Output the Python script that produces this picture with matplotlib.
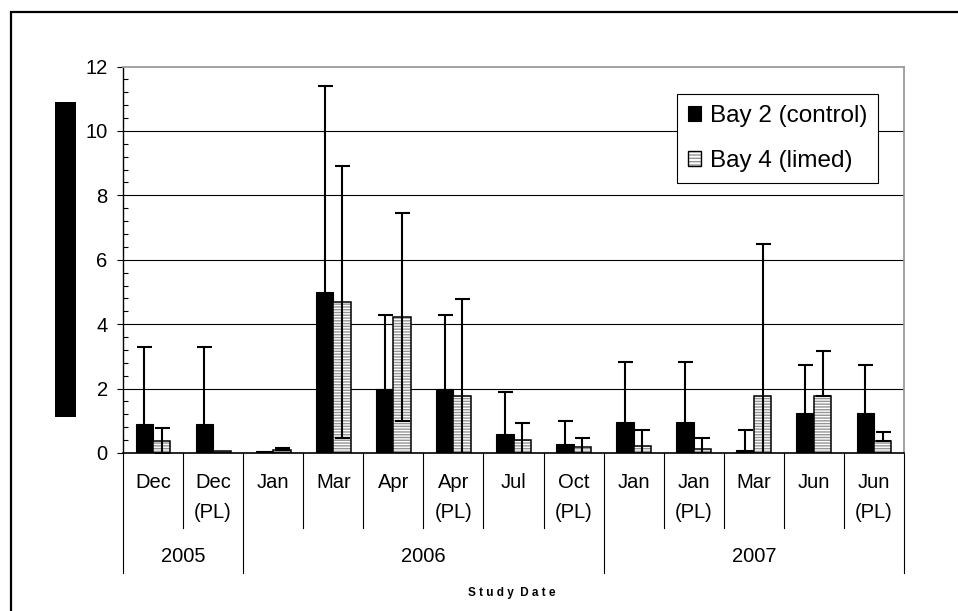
import numpy as np
import matplotlib
matplotlib.use("Agg")
from matplotlib import pyplot as plt
from matplotlib import transforms
from matplotlib.patches import Patch, Rectangle
from matplotlib.legend_handler import HandlerTuple
from matplotlib.ticker import MultipleLocator

# sampling dates (month row, then year row)
months = ["Dec", "Dec\n(PL)", "Jan", "Mar", "Apr", "Apr\n(PL)", "Jul", "Oct\n(PL)",
          "Jan", "Jan\n(PL)", "Mar", "Jun", "Jun\n(PL)"]
years = ["2005", "2006", "2007"]
year_counts = [2, 6, 5]

# means and error bars for each bay
bay2 = [0.9, 0.9, 0.05, 5.0, 2.0, 2.0, 0.6, 0.29, 0.95, 0.95, 0.09, 1.25, 1.25]
bay2_err = [2.4, 2.4, 0.0, 6.4, 2.3, 2.3, 1.29, 0.71, 1.88, 1.88, 0.62, 1.47, 1.47]
bay4 = [0.37, 0.05, 0.08, 4.69, 4.21, 1.77, 0.41, 0.18, 0.23, 0.11, 1.77, 1.77, 0.37]
bay4_err = [0.4, 0.0, 0.06, 4.22, 3.23, 3.01, 0.53, 0.29, 0.48, 0.36, 4.73, 1.41, 0.29]
bay4_err_low = [0.4, 0.0, 0.0, 4.22, 3.21, 3.01, 0.53, 0.29, 0.48, 0.36, 4.73, 0.0, 0.0]

labels = ["Bay 2 (control)", "Bay 4 (limed)"]

plt.rcParams["font.family"] = ["Liberation Sans", "DejaVu Sans"]
plt.rcParams["hatch.linewidth"] = 1.0

W, H = 958, 611
fig = plt.figure(figsize=(W / 100, H / 100), dpi=100)


def fx(px):
    return px / W


def fy(py):
    return 1 - py / H


# outer chart frame (runs off the right and bottom edges)
fig.patches.append(Rectangle((fx(11), fy(640)), fx(1000), 640 / H - 12 / H,
                             transform=fig.transFigure, fill=False,
                             edgecolor="black", linewidth=1.6))
# blacked-out y-axis title
fig.patches.append(Rectangle((fx(55), fy(417)), fx(21), 315 / H,
                             transform=fig.transFigure, facecolor="black",
                             edgecolor="none"))

ax = fig.add_axes([fx(123), fy(453), fx(904) - fx(123), fy(66.5) - fy(453)])

x = np.arange(len(months))
w = 0.29
hatch_grey = "#959595"

ax.bar(x - w / 2, bay2, w, color="black", edgecolor="black", linewidth=0.8, zorder=2)
ax.bar(x + w / 2, bay4, w, color="white", edgecolor=hatch_grey, linewidth=0,
       hatch="------", zorder=2)
ax.bar(x + w / 2, bay4, w, fill=False, edgecolor="black", linewidth=1.1, zorder=2.1)

for xs, ys, lo, hi in [(x - w / 2, bay2, bay2_err, bay2_err),
                       (x + w / 2, bay4, bay4_err_low, bay4_err)]:
    ys = np.asarray(ys)
    lo = np.asarray(lo)
    hi = np.asarray(hi)
    m = hi > 0
    ax.errorbar(xs[m], ys[m], yerr=[lo[m], hi[m]], fmt="none", ecolor="black",
                elinewidth=1.5, capsize=5.4, capthick=1.5, zorder=3)

ax.set_xlim(-0.5, len(months) - 0.5)
ax.set_ylim(0, 12)
ax.yaxis.set_major_locator(MultipleLocator(2))
ax.yaxis.set_minor_locator(MultipleLocator(0.4))
ax.tick_params(axis="y", which="major", direction="out", length=4.5, width=0.8,
               pad=6.5, labelsize=14.5)
ax.tick_params(axis="y", which="minor", direction="in", length=3.5, width=0.8)
ax.set_xticks([])

for yv in range(2, 12, 2):
    ax.axhline(yv, color="black", linewidth=0.8, zorder=1)

for side in ["top", "right"]:
    ax.spines[side].set_color("#9a9a9a")
    ax.spines[side].set_linewidth(1.3)
ax.spines["left"].set_linewidth(1.0)
ax.spines["bottom"].set_linewidth(1.2)

# two-level category axis
trans = transforms.blended_transform_factory(ax.transData, fig.transFigure)
bounds = np.cumsum([0] + year_counts) - 0.5
for i in range(len(months) + 1):
    xb = i - 0.5
    bottom = 573 if xb in bounds else 528
    ax.plot([xb, xb], [fy(453), fy(bottom)], color="black", linewidth=0.8,
            transform=trans, clip_on=False)

for i, lab in enumerate(months):
    for j, line in enumerate(lab.split("\n")):
        ax.text(i, fy(483 + 30 * j), line, transform=trans, ha="center",
                va="center", fontsize=14.5)

for k, yr in enumerate(years):
    ax.text((bounds[k] + bounds[k + 1]) / 2, fy(557), yr, transform=trans,
            ha="center", va="center", fontsize=14.5)

fig.text(fx(512), fy(593), "S t u d y  D a t e", ha="center", va="center",
         fontsize=8.5, fontweight="bold")

handles = [
    Patch(facecolor="black", edgecolor="black", linewidth=0.8),
    (Patch(facecolor="white", edgecolor=hatch_grey, hatch="-----", linewidth=0),
     Patch(fill=False, edgecolor="black", linewidth=1.0)),
]
leg = ax.legend(handles, labels, loc="upper left", bbox_to_anchor=(fx(677), fy(94)),
                bbox_transform=fig.transFigure, borderaxespad=0, fontsize=17.5,
                handlelength=0.55, handleheight=0.55, handletextpad=0.35,
                labelspacing=0.95, borderpad=0.45, fancybox=False,
                framealpha=1, handler_map={tuple: HandlerTuple(ndivide=1)})
leg.get_frame().set_edgecolor("black")
leg.get_frame().set_linewidth(0.8)

fig.savefig("out.png", dpi=100)
